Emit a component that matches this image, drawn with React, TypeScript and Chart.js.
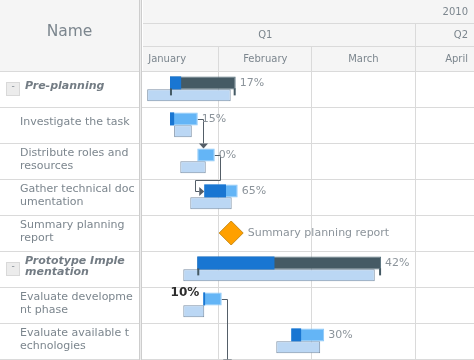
import React, { useEffect, useRef } from "react";
import { Chart, registerables } from "chart.js";
Chart.register(...registerables);

// ---- data ----
const taskNames: string[][] = [
  ["Pre-planning"],
  ["Investigate the task"],
  ["Distribute roles and", "resources"],
  ["Gather technical doc", "umentation"],
  ["Summary planning", "report"],
  ["Prototype Imple", "mentation"],
  ["Evaluate developme", "nt phase"],
  ["Evaluate available t", "echnologies"],
];
const isParent = [true, false, false, false, false, true, false, false];
// days since 2010-01-01
const actualStart: (number | null)[] = [16.35, 16.35, 24.55, 26.65, null, 24.55, 26.35, 52.8];
const actualEnd: (number | null)[] = [36.1, 24.7, 29.8, 36.7, null, 79.8, 31.9, 62.7];
const progressValue: (number | null)[] = [0.17, 0.15, 0, 0.65, null, 0.42, 0.1, 0.3];
const baselineStart: (number | null)[] = [9.5, 17.6, 19.45, 22.45, null, 20.35, 20.35, 48.3];
const baselineEnd: (number | null)[] = [34.6, 22.9, 27.1, 34.9, null, 77.9, 26.65, 61.5];
const milestoneDay: (number | null)[] = [null, null, null, null, 34.75, null, null, null];
const milestoneLabel = "Summary planning report";
const connectorFrom = [1, 2, 6];
const connectorTo = [2, 3, 8];
const connectorRoute = ["down", "loop", "down"];
const yearLabels = ["2010"];
const yearStart = [0];
const yearEnd = [365];
const quarterLabels = ["Q1", "Q2"];
const quarterStart = [0, 90];
const quarterEnd = [90, 181];
const monthLabels = ["January", "February", "March", "April"];
const monthStart = [0, 31, 59, 90];
const monthEnd = [31, 59, 90, 120];
const viewStart = 8.24;
const viewEnd = 107.73;

// ---- styling constants ----
const FONT = '"DejaVu Sans", Verdana, sans-serif';
const GRID = "#dadada";
const HEAD_BG = "#f5f5f5";
const TXT = "#7c868e";
const ACT = 0.33;
const BASE = 0.675;
const LEFT_W = 139;
const TL_LEFT = 143;

const rows = taskNames.map((_, i) => i);

const ganttPlugin = {
  id: "gantt",
  beforeDraw(chart: any) {
    const { ctx, scales } = chart;
    const x = scales.x, y = scales.y;
    const W = chart.width, H = chart.height;
    const px = (d: number) => x.getPixelForValue(d);
    ctx.save();
    ctx.fillStyle = "#ffffff";
    ctx.fillRect(0, 0, W, H);
    ctx.fillStyle = HEAD_BG;
    ctx.fillRect(0, 0, LEFT_W, 71);
    ctx.fillRect(TL_LEFT, 0, W - TL_LEFT, 71);
    // header lines
    ctx.fillStyle = GRID;
    ctx.fillRect(TL_LEFT, 23, W - TL_LEFT, 1);
    ctx.fillRect(TL_LEFT, 46, W - TL_LEFT, 1);
    // row lines
    for (let i = 0; i <= rows.length; i++) {
      const yy = Math.round(y.getPixelForValue(i));
      ctx.fillRect(0, yy, W, 1);
    }
    // vertical timeline lines
    ctx.save();
    ctx.beginPath();
    ctx.rect(TL_LEFT, 0, W - TL_LEFT, H);
    ctx.clip();
    monthStart.forEach((d) => {
      const xx = Math.floor(px(d));
      ctx.fillRect(xx, 46, 1, H - 46);
    });
    quarterStart.forEach((d) => {
      const xx = Math.floor(px(d));
      ctx.fillRect(xx, 23, 1, H - 23);
    });
    // header labels
    ctx.fillStyle = TXT;
    ctx.font = `10px ${FONT}`;
    ctx.textBaseline = "middle";
    ctx.textAlign = "left";
    const hdr = (labels: string[], s: number[], e: number[], yy: number) => {
      labels.forEach((t, i) => {
        const w = ctx.measureText(t).width;
        const cx = (px(s[i]) + px(e[i])) / 2;
        let l = cx - w / 2;
        const minL = Math.max(px(s[i]), TL_LEFT) + 5;
        const maxL = Math.min(px(e[i]), W) - 6 - w;
        if (l > maxL) l = maxL;
        if (l < minL) l = minL;
        ctx.fillText(t, l, yy);
      });
    };
    hdr(yearLabels, yearStart, yearEnd, 12);
    hdr(quarterLabels, quarterStart, quarterEnd, 35);
    hdr(monthLabels, monthStart, monthEnd, 59);
    ctx.restore();
    // splitter
    ctx.fillStyle = "#cdcdcd";
    ctx.fillRect(139, 0, 1, H);
    ctx.fillRect(141, 0, 1, H);
    ctx.fillStyle = "#ececec";
    ctx.fillRect(140, 0, 1, H);
    // left header
    ctx.fillStyle = TXT;
    ctx.font = `15.5px ${FONT}`;
    ctx.textAlign = "center";
    ctx.fillText("Name", 69.5, 36);
    // left rows
    ctx.textAlign = "left";
    rows.forEach((i) => {
      const top = y.getPixelForValue(i);
      const bot = y.getPixelForValue(i + 1);
      const cy = (top + bot) / 2;
      const lines = taskNames[i];
      const spacing = isParent[i] ? 11 : 13;
      const first = cy + (lines.length > 1 && !isParent[i] ? 1 : 0) - ((lines.length - 1) * spacing) / 2;
      let tx = 20;
      if (isParent[i]) {
        tx = 25;
        const by = Math.round(cy - 7);
        ctx.fillStyle = "#ececec";
        ctx.fillRect(6, by, 14, 14);
        ctx.strokeStyle = "#d9d9d9";
        ctx.lineWidth = 1;
        ctx.strokeRect(6.5, by + 0.5, 13, 13);
        ctx.fillStyle = TXT;
        ctx.font = `9px ${FONT}`;
        ctx.textAlign = "center";
        ctx.fillText("-", 13, by + 7);
        ctx.textAlign = "left";
        ctx.font = `italic bold 11px ${FONT}`;
        ctx.fillStyle = "#737c84";
      } else {
        ctx.font = `11px ${FONT}`;
        ctx.fillStyle = TXT;
      }
      lines.forEach((ln, k) => ctx.fillText(ln, tx, first + k * spacing));
    });
    ctx.restore();
  },
  beforeDatasetsDraw(chart: any) {
    const { ctx, scales } = chart;
    const x = scales.x, y = scales.y;
    const px = (d: number) => x.getPixelForValue(d);
    ctx.save();
    ctx.beginPath();
    ctx.rect(TL_LEFT, 71, chart.width - TL_LEFT, chart.height - 71);
    ctx.clip();
    ctx.strokeStyle = "#545e68";
    ctx.fillStyle = "#545e68";
    ctx.lineWidth = 1;
    connectorFrom.forEach((f, k) => {
      const t = connectorTo[k];
      const sx = px(actualEnd[f] as number);
      const sy = Math.round(y.getPixelForValue(f + ACT)) + 0.5;
      const vx = Math.round(sx + 5) + 0.5;
      const tStart = t < rows.length ? (actualStart[t] as number) : null;
      const ty = Math.round(y.getPixelForValue(t + ACT)) + 0.5;
      if (connectorRoute[k] === "down") {
        const topY = y.getPixelForValue(t + ACT) - 6.5;
        ctx.beginPath();
        ctx.moveTo(sx, sy);
        ctx.lineTo(vx, sy);
        ctx.lineTo(vx, topY - 5);
        ctx.stroke();
        ctx.beginPath();
        ctx.moveTo(vx, topY);
        ctx.lineTo(vx - 4.5, topY - 5);
        ctx.lineTo(vx + 4.5, topY - 5);
        ctx.closePath();
        ctx.fill();
      } else {
        const tx = px(tStart as number);
        const by = Math.round(y.getPixelForValue(t)) + 1.5;
        const lx = Math.round(tx - 9) + 0.5;
        ctx.beginPath();
        ctx.moveTo(sx, sy);
        ctx.lineTo(vx, sy);
        ctx.lineTo(vx, by);
        ctx.lineTo(lx, by);
        ctx.lineTo(lx, ty);
        ctx.lineTo(tx - 5, ty);
        ctx.stroke();
        ctx.beginPath();
        ctx.moveTo(tx, ty);
        ctx.lineTo(tx - 5, ty - 4.5);
        ctx.lineTo(tx - 5, ty + 4.5);
        ctx.closePath();
        ctx.fill();
      }
    });
    ctx.restore();
  },
  afterDatasetsDraw(chart: any) {
    const { ctx, scales } = chart;
    const x = scales.x, y = scales.y;
    const px = (d: number) => x.getPixelForValue(d);
    ctx.save();
    ctx.textBaseline = "middle";
    rows.forEach((i) => {
      if (isParent[i] && actualStart[i] != null) {
        const xs = px(actualStart[i] as number);
        const xe = px(actualEnd[i] as number);
        const bb = y.getPixelForValue(i + ACT) + 6.5;
        ctx.fillStyle = "#455a64";
        ctx.fillRect(xs, bb - 1, 2, 7);
        ctx.fillRect(xe - 2, bb - 1, 2, 7);
      }
      if (progressValue[i] != null) {
        const label = Math.round((progressValue[i] as number) * 100) + "%";
        const cy = y.getPixelForValue(i + ACT);
        if (i === 6) {
          ctx.font = `bold 12px ${FONT}`;
          ctx.fillStyle = "#2d2d2d";
          ctx.textAlign = "right";
          ctx.fillText(label, px(actualStart[i] as number) - 4, cy - 6);
        } else {
          ctx.font = `11px ${FONT}`;
          ctx.fillStyle = "#8c949b";
          ctx.textAlign = "left";
          ctx.fillText(label, px(actualEnd[i] as number) + 4, cy + 0.5);
        }
      }
      if (milestoneDay[i] != null) {
        ctx.font = `11px ${FONT}`;
        ctx.fillStyle = "#8c949b";
        ctx.textAlign = "left";
        ctx.fillText(milestoneLabel, px(milestoneDay[i] as number) + 16.5, y.getPixelForValue(i + 0.5) + 0.5);
      }
    });
    ctx.restore();
  },
};

export default function App() {
  const ref = useRef<HTMLCanvasElement>(null);
  useEffect(() => {
    document.body.style.margin = "0";
    const baselineData = rows
      .filter((i) => baselineStart[i] != null)
      .map((i) => ({ x: [baselineStart[i], baselineEnd[i]], y: i + BASE }));
    const childData = rows
      .filter((i) => !isParent[i] && actualStart[i] != null)
      .map((i) => ({ x: [actualStart[i], actualEnd[i]], y: i + ACT }));
    const parentData = rows
      .filter((i) => isParent[i] && actualStart[i] != null)
      .map((i) => ({ x: [actualStart[i], actualEnd[i]], y: i + ACT }));
    const progressData = rows
      .filter((i) => (progressValue[i] as number) > 0 && actualStart[i] != null)
      .map((i) => {
        const s = actualStart[i] as number;
        const e = actualEnd[i] as number;
        return { x: [s, s + (progressValue[i] as number) * (e - s)], y: i + ACT };
      });
    const milestoneData = rows
      .filter((i) => milestoneDay[i] != null)
      .map((i) => ({ x: milestoneDay[i], y: i + 0.5 }));

    const common = {
      grouped: false,
      borderSkipped: false,
      inflateAmount: 0,
      indexAxis: "y",
    };
    const chart = new Chart(ref.current as HTMLCanvasElement, {
      type: "bar",
      data: {
        datasets: [
          {
            ...common,
            label: "progress",
            data: progressData,
            backgroundColor: "#1976d2",
            borderWidth: 0,
            barThickness: 13,
            order: 0,
          } as any,
          {
            type: "scatter",
            label: "milestone",
            data: milestoneData,
            pointStyle: "rectRot",
            pointRadius: 12,
            pointHoverRadius: 12,
            backgroundColor: "#ffa000",
            borderColor: "#c98b16",
            borderWidth: 1,
            order: 0,
          } as any,
          {
            ...common,
            label: "parent",
            data: parentData,
            backgroundColor: "#455a64",
            borderColor: "#56707c",
            borderWidth: 1,
            barThickness: 13,
            order: 1,
          } as any,
          {
            ...common,
            label: "actual",
            data: childData,
            backgroundColor: "#64b5f6",
            borderColor: "#8cc8f8",
            borderWidth: 1,
            barThickness: 13,
            order: 1,
          } as any,
          {
            ...common,
            label: "baseline",
            data: baselineData,
            backgroundColor: "#bbd7f4",
            borderColor: "#7a8fa5",
            borderWidth: 1,
            barThickness: 12,
            order: 2,
          } as any,
        ],
      },
      options: {
        indexAxis: "y",
        responsive: false,
        animation: false,
        devicePixelRatio: 1,
        events: [],
        layout: { autoPadding: false, padding: { left: TL_LEFT, top: 71, right: 0, bottom: 1 } },
        plugins: { legend: { display: false }, tooltip: { enabled: false } },
        scales: {
          x: { type: "linear", min: viewStart, max: viewEnd, display: false, offset: false },
          y: { type: "linear", min: 0, max: 8, reverse: true, display: false, offset: false },
        },
      } as any,
      plugins: [ganttPlugin as any],
    });
    return () => chart.destroy();
  }, []);
  return (
    <div style={{ width: 474, height: 360 }}>
      <canvas ref={ref} width={474} height={360} style={{ display: "block", width: 474, height: 360 }} />
    </div>
  );
}
